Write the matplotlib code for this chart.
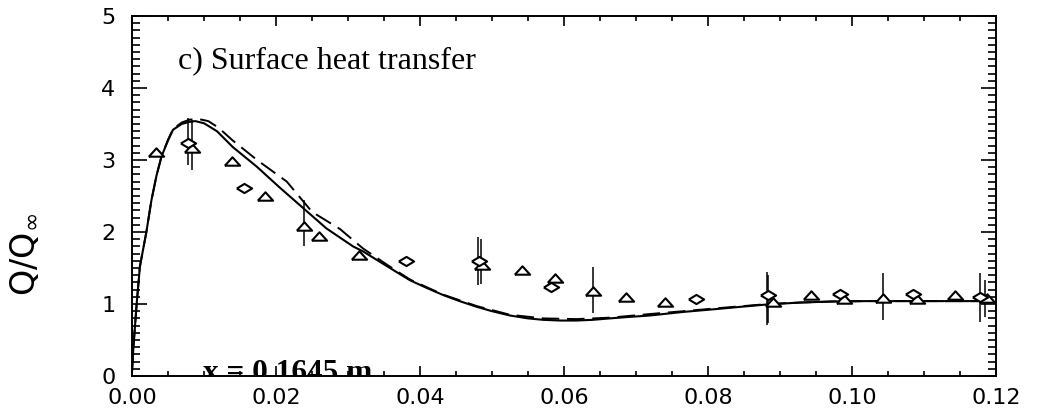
import numpy as np
import matplotlib
matplotlib.use("Agg")
import matplotlib.pyplot as plt
from matplotlib.ticker import MultipleLocator, FormatStrFormatter

# computed surface heat transfer, two grids (solid / dashed)
x_solid = [0.0, 0.0002, 0.00065, 0.0011, 0.0020, 0.0027, 0.0034, 0.0041, 0.0050, 0.0057,
           0.0069, 0.0080, 0.0088, 0.0100, 0.0118, 0.0140, 0.0173, 0.0206, 0.0238, 0.0270,
           0.0307, 0.0321, 0.0355, 0.0386, 0.0410, 0.0432, 0.0455, 0.0479, 0.0500, 0.0525,
           0.0550, 0.0571, 0.0595, 0.0617, 0.0640, 0.0664, 0.0690, 0.0719, 0.0766, 0.0812,
           0.0850, 0.0884, 0.0928, 0.0974, 0.1020, 0.1080, 0.1140, 0.1195]
q_solid = [0.05, 0.40, 1.00, 1.52, 2.00, 2.44, 2.78, 3.05, 3.27, 3.42,
           3.50, 3.53, 3.54, 3.51, 3.40, 3.18, 2.91, 2.61, 2.33, 2.05,
           1.80, 1.73, 1.52, 1.33, 1.22, 1.125, 1.04, 0.96, 0.90, 0.84,
           0.80, 0.78, 0.77, 0.77, 0.78, 0.80, 0.82, 0.84, 0.89, 0.93,
           0.965, 0.995, 1.02, 1.035, 1.04, 1.04, 1.04, 1.04]

x_dash = [0.0, 0.0002, 0.00065, 0.0011, 0.0020, 0.0027, 0.0034, 0.0041, 0.0050, 0.0057,
          0.0069, 0.0080, 0.0092, 0.0106, 0.0120, 0.0140, 0.0175, 0.0215, 0.0250, 0.0289,
          0.0321, 0.0355, 0.0386, 0.0432, 0.0479, 0.0525, 0.0571, 0.0617, 0.0664, 0.0719,
          0.0766, 0.0812, 0.0884, 0.0928, 0.0974, 0.1020, 0.1080, 0.1140, 0.1195]
q_dash = [0.05, 0.40, 1.00, 1.52, 2.00, 2.44, 2.78, 3.05, 3.28, 3.43,
          3.52, 3.56, 3.57, 3.54, 3.45, 3.27, 2.99, 2.70, 2.28, 2.04,
          1.77, 1.54, 1.34, 1.13, 0.97, 0.85, 0.80, 0.79, 0.81, 0.86,
          0.90, 0.94, 1.00, 1.02, 1.035, 1.04, 1.04, 1.04, 1.04]

# measurements
x_tri = [0.0033, 0.0083, 0.0139, 0.0185, 0.0239, 0.0260, 0.0315, 0.0486, 0.0541, 0.0588,
         0.0640, 0.0686, 0.0740, 0.0890, 0.0943, 0.0989, 0.1043, 0.1090, 0.1143, 0.1187]
q_tri = [3.11, 3.16, 2.98, 2.50, 2.08, 1.94, 1.68, 1.54, 1.47, 1.36,
         1.18, 1.10, 1.03, 1.03, 1.12, 1.07, 1.09, 1.07, 1.12, 1.08]

x_dia = [0.0078, 0.0155, 0.0381, 0.0482, 0.0582, 0.0784, 0.0883, 0.0983, 0.1085, 0.1178]
q_dia = [3.24, 2.61, 1.60, 1.60, 1.23, 1.07, 1.12, 1.14, 1.14, 1.10]

# uncertainty bars
x_err = [0.0078, 0.0083, 0.0239, 0.0480, 0.0485, 0.0640, 0.0882, 0.0884, 0.1043, 0.1178, 0.1185]
q_lo = [2.93, 2.86, 1.80, 1.26, 1.28, 0.87, 0.71, 0.73, 0.78, 0.75, 0.82]
q_hi = [3.58, 3.56, 2.44, 1.93, 1.90, 1.52, 1.45, 1.40, 1.43, 1.43, 1.33]

tri_marker = [(-1.0, -0.55), (1.0, -0.55), (0.0, 0.55), (-1.0, -0.55)]
dia_marker = [(-1.0, 0.0), (0.0, 0.6), (1.0, 0.0), (0.0, -0.6), (-1.0, 0.0)]

fig = plt.figure(figsize=(10.4, 4.11), dpi=100)
ax = fig.add_axes([0.1269, 0.0852, 0.8308, 0.8759])

ax.plot(x_solid, q_solid, color="black", lw=1.5)
ax.plot(x_dash, q_dash, color="black", lw=1.4, linestyle=(0, (9, 4)))
ax.vlines(x_err, q_lo, q_hi, color="black", lw=1.1)
ax.plot(x_tri, q_tri, linestyle="none", marker=tri_marker, markersize=11,
        markerfacecolor="white", markeredgecolor="black", markeredgewidth=1.5)
ax.plot(x_dia, q_dia, linestyle="none", marker=dia_marker, markersize=11,
        markerfacecolor="white", markeredgecolor="black", markeredgewidth=1.5)

ax.set_xlim(0.0, 0.12)
ax.set_ylim(0, 5)
ax.xaxis.set_major_locator(MultipleLocator(0.02))
ax.xaxis.set_minor_locator(MultipleLocator(0.005))
ax.yaxis.set_major_locator(MultipleLocator(1))
ax.yaxis.set_minor_locator(MultipleLocator(0.1))
ax.xaxis.set_major_formatter(FormatStrFormatter("%.2f"))

ax.tick_params(which="both", direction="in", top=True, right=True, width=1.2)
ax.tick_params(axis="x", which="major", length=7, pad=9)
ax.tick_params(axis="x", which="minor", length=3.5)
ax.tick_params(axis="y", which="major", length=11, pad=12)
ax.tick_params(axis="y", which="minor", length=6)
for lab in ax.get_xticklabels() + ax.get_yticklabels():
    lab.set_fontsize(16)
for sp in ax.spines.values():
    sp.set_linewidth(1.4)

fig.text(0.024, 0.38, r"Q/Q$_{\infty}$", rotation=90, fontsize=24,
         ha="center", va="center")

ax.text(0.053, 0.856, "c) Surface heat transfer", transform=ax.transAxes,
        fontsize=23, family="Liberation Serif", va="baseline")
ax.text(0.082, -0.014, "x = 0.1645 m", transform=ax.transAxes, fontsize=22.5,
        family="Liberation Serif", fontweight="bold", va="baseline", clip_on=True)

fig.savefig("out.png", dpi=100)
